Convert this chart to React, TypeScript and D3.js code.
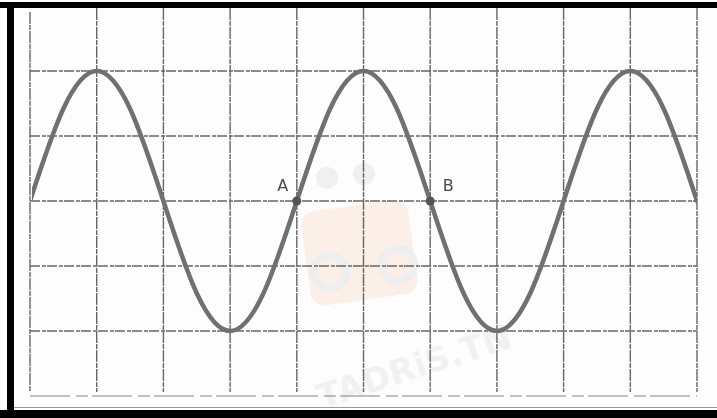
import React from "react";
import * as d3 from "d3";

// grid divisions (horizontal: 10 divisions, vertical: 6 divisions)
const xDivisions = [0, 1, 2, 3, 4, 5, 6, 7, 8, 9, 10];
const yDivisions = [-3, -2, -1, 0, 1, 2];
// signal samples (x in divisions, y in divisions)
const signalX = [0, 0.5, 1, 1.5, 2, 2.5, 3, 3.5, 4, 4.5, 5, 5.5, 6, 6.5, 7, 7.5, 8, 8.5, 9, 9.5, 10];
const signalY = [0, 1.42, 2, 1.42, 0, -1.42, -2, -1.42, 0, 1.42, 2, 1.42, 0, -1.42, -2, -1.42, 0, 1.42, 2, 1.42, 0];
// marked points
const pointLabels = ["A", "B"];
const pointX = [4, 6];
const pointY = [0, 0];

const W = 717;
const H = 418;

export default function App() {
  const x = d3.scaleLinear().domain([0, 10]).range([30, 697]);
  const y = d3.scaleLinear().domain([-3, 3]).range([396, 6]);
  const data = signalX.map((v, i) => [v, signalY[i]] as [number, number]);
  const line = d3
    .line<[number, number]>()
    .x((d) => x(d[0]))
    .y((d) => y(d[1]))
    .curve(d3.curveNatural);
  const gridColor = "#666";
  return (
    <svg
      width={W}
      height={H}
      style={{ position: "absolute", left: 0, top: 0, background: "#fff" }}
      fontFamily="DejaVu Sans, sans-serif"
    >
      <rect x={0} y={0} width={W} height={H} fill="#fdfdfd" />
      {/* watermark */}
      <g opacity={0.55}>
        <rect x={305} y={205} width={108} height={95} rx={14} fill="#fbe3d6" transform="rotate(-8 360 250)" />
        <circle cx={327} cy={178} r={11} fill="#e6e6e6" />
        <circle cx={364} cy={174} r={11} fill="#e6e6e6" />
        <circle cx={330} cy={272} r={16} fill="none" stroke="#e2e2e2" strokeWidth={8} />
        <circle cx={398} cy={265} r={16} fill="none" stroke="#e2e2e2" strokeWidth={8} />
        <text
          x={418}
          y={378}
          textAnchor="middle"
          fontSize={34}
          fontWeight="bold"
          fill="#e8e8e8"
          transform="rotate(-18 418 378)"
        >
          TADRiS.TN
        </text>
      </g>
      {/* grid */}
      {xDivisions.map((d) => (
        <line
          key={"v" + d}
          x1={x(d)}
          x2={x(d)}
          y1={d === 0 ? 12 : 8}
          y2={392}
          stroke={gridColor}
          strokeWidth={1.4}
          strokeDasharray="12 1 5 1"
        />
      ))}
      {yDivisions.map((d) => (
        <line
          key={"h" + d}
          x1={x(0)}
          x2={x(10)}
          y1={y(d)}
          y2={y(d)}
          stroke={gridColor}
          strokeWidth={d === -3 ? 1.1 : 1.4}
          strokeDasharray={d === -3 ? "40 6 12 4" : "10 2 4 1"}
          opacity={d === -3 ? 0.8 : 1}
        />
      ))}
      {/* signal */}
      <defs>
        <clipPath id="plotClip">
          <rect x={x(0) + 2} y={0} width={x(10) - x(0) - 2} height={H} />
        </clipPath>
      </defs>
      <path
        d={line(data) || ""}
        fill="none"
        stroke="#707070"
        strokeWidth={4.5}
        strokeLinecap="round"
        clipPath="url(#plotClip)"
      />
      {/* points */}
      {pointLabels.map((l, i) => (
        <g key={l}>
          <circle cx={x(pointX[i])} cy={y(pointY[i])} r={4.5} fill="#555" />
          <text
            x={x(pointX[i]) + (i === 0 ? -14 : 18)}
            y={y(pointY[i]) - 10}
            textAnchor="middle"
            fontSize={16}
            fill="#4a4a4a"
          >
            {l}
          </text>
        </g>
      ))}
      {/* scanned frame */}
      <rect x={0} y={2} width={W} height={6} fill="#000" />
      <rect x={7} y={2} width={7} height={H - 2} fill="#000" />
      <rect x={0} y={410} width={W} height={8} fill="#000" />
      <line x1={14} x2={W} y1={407.5} y2={407.5} stroke="#9a9a9a" strokeWidth={1} />
    </svg>
  );
}
